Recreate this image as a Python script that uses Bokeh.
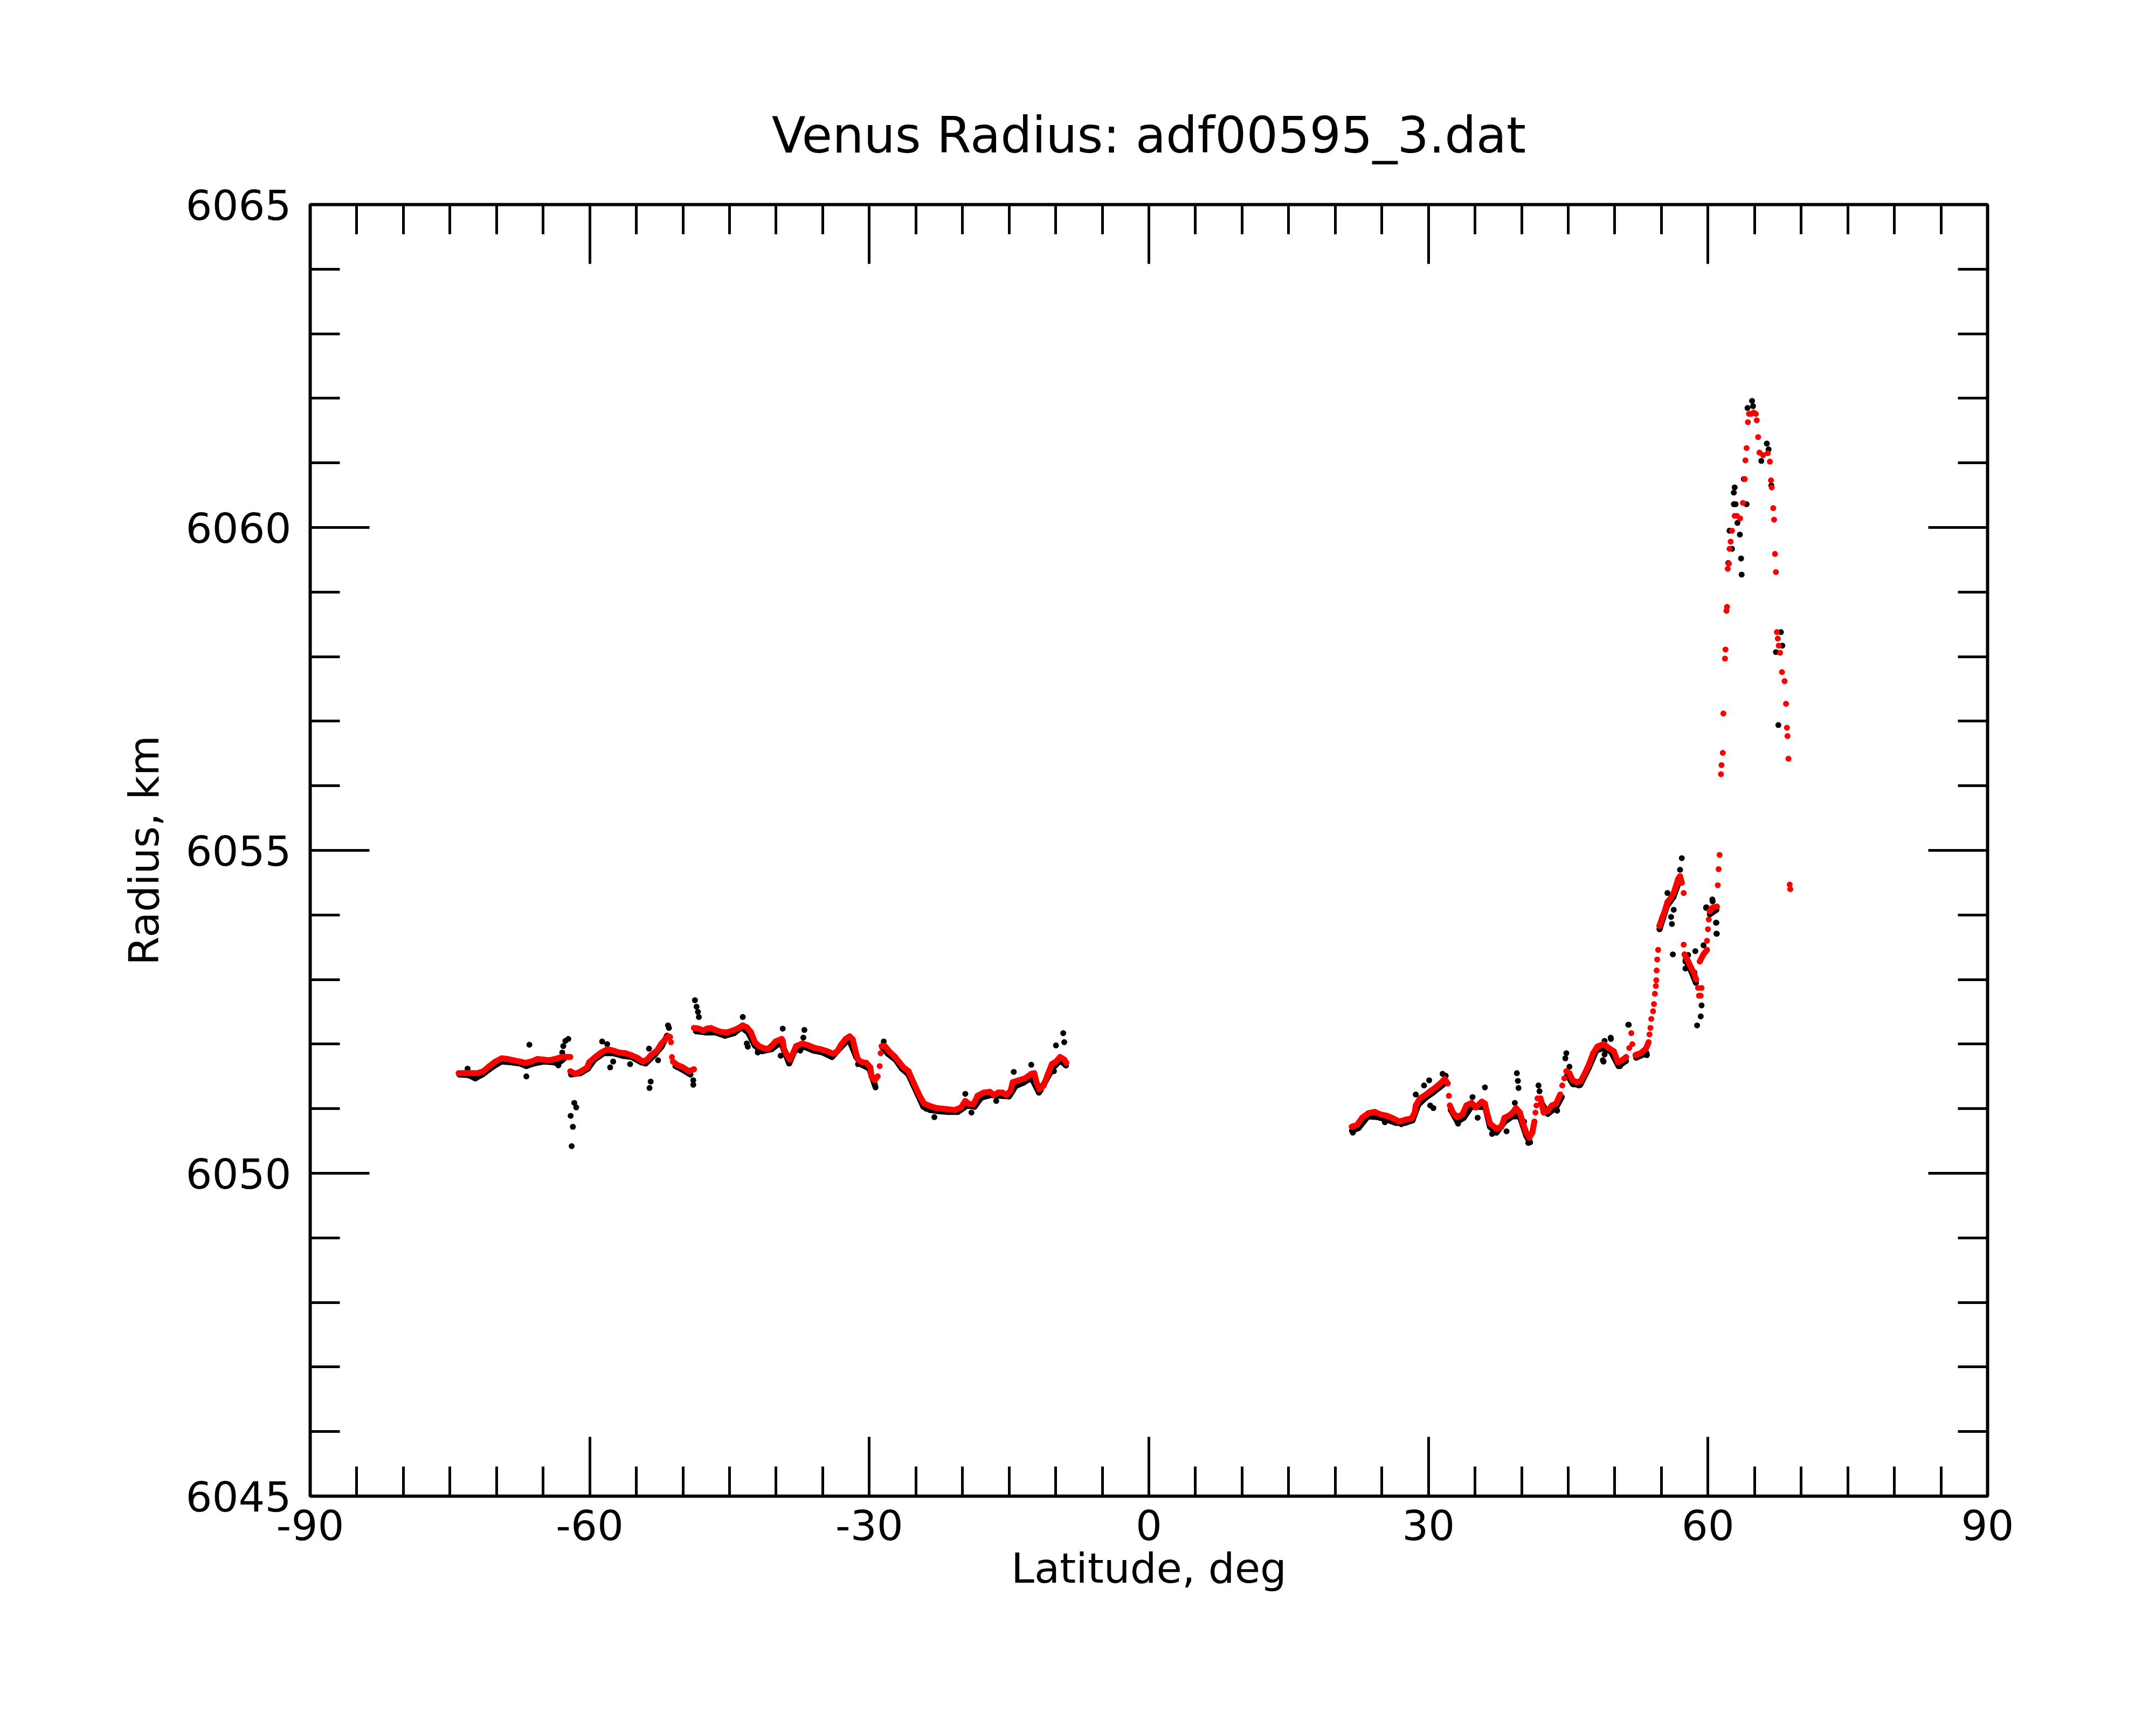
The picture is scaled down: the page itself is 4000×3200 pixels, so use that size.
from bokeh.plotting import figure
from bokeh.models import LinearAxis, FixedTicker, Range1d
from bokeh.embed import file_html
from bokeh.resources import INLINE

nan = float("nan")

title_text = "Venus Radius: adf00595_3.dat"
x_label = "Latitude, deg"
y_label = "Radius, km"
x_major_ticks = [-90, -60, -30, 0, 30, 60, 90]
x_tick_labels = ["-90", "-60", "-30", "0", "30", "60", "90"]
x_minor_ticks = list(range(-90, 91, 5))
y_major_ticks = [6045, 6050, 6055, 6060, 6065]
y_tick_labels = ["6045", "6050", "6055", "6060", "6065"]
y_minor_ticks = list(range(6045, 6066))

# smoothed (red) profile, continuous stretches separated by nan
red_track_lat = [
    -74.07, -73.11, -72.04, -71.40, -70.76, -70.11, -69.47, -68.83, -68.19, -67.55,
    -66.90, -66.26, -65.62, -64.98, -64.34, -63.69, -63.05, -62.41, -62.09, nan,
    -62.09, -61.55, -60.91, -60.27, -60.06, -59.41, -58.77, -58.13, -57.49, -56.85,
    -56.20, -55.56, -54.92, -54.28, -53.85, -53.42, -52.78, -52.35, -51.92, -51.60, -51.39, nan,
    -51.07, -50.64, -50.00, -49.36, -48.82, nan,
    -48.82, -48.29, -47.86, -47.43, -47.00, -46.57, -45.93, -45.29, -44.65, -44.01,
    -43.58, -43.15, -42.72, -42.28, -41.84, -41.39, -40.95, -40.51, -40.07, -39.40,
    -39.29, -39.18, -38.85, -38.52, -38.19, -37.85, -37.19, -36.53, -35.86, -35.20,
    -34.53, -33.87, -33.43, -32.98, -32.54, -32.10, -31.77, -31.43, -31.21, -30.77,
    -30.33, -29.89, -29.77, -29.44, -29.11, nan,
    -28.67, -28.34, -27.89, -27.23, -26.79, -26.34, -25.79, -25.46, -25.02, -24.57,
    -24.13, -23.47, -22.80, -22.14, -21.47, -20.81, -20.15, -19.70, -19.26, -18.82,
    -18.38, -17.71, -17.05, -16.61, -16.16, -15.72, -15.28, -14.83, -14.61, -13.95,
    -13.29, -12.62, -12.29, -12.07, -11.74, -11.29, -10.85, -10.41, -9.97, -9.52,
    -9.08, -8.86, nan,
    21.78, 22.34, 22.89, 23.55, 24.22, 24.88, 25.55, 26.21, 26.87, 27.54,
    28.20, 28.53, 28.64, 29.09, 29.75, 30.19, 30.86, 31.41, 31.74, 32.07, nan,
    32.30, 32.63, 33.07, 33.62, 34.07, 34.62, 35.06, 35.73, 36.06, 36.28,
    36.61, 37.28, 37.83, 38.16, 38.60, 39.05, 39.38, 39.82, 40.15, 40.49,
    40.82, 41.15, 41.37, nan,
    42.03, 42.37, 42.81, 43.25, 43.69, 44.14, nan,
    44.80, 45.13, 45.47, 45.91, 46.35, 46.79, 47.24, 47.68, 48.12, 48.79,
    49.34, 49.89, 50.34, 50.78, 51.22, nan,
    52.22, 52.77, 53.34, 53.63, nan,
    54.78, 55.07, 55.36, 55.65, 56.04, 56.32, 56.61, 56.81, 57.00, 57.19, nan,
    57.48, 57.87, 58.16, 58.45, 58.73, nan,
    59.12, 59.51, 59.89, nan,
    60.18, 60.47, 60.95,
]
red_track_rad = [
    6051.55, 6051.55, 6051.55, 6051.58, 6051.66, 6051.73, 6051.78, 6051.77, 6051.75, 6051.73,
    6051.71, 6051.73, 6051.77, 6051.76, 6051.75, 6051.77, 6051.80, 6051.80, 6051.80, nan,
    6051.58, 6051.54, 6051.58, 6051.64, 6051.72, 6051.80, 6051.87, 6051.92, 6051.90, 6051.87,
    6051.86, 6051.83, 6051.79, 6051.73, 6051.76, 6051.83, 6051.90, 6052.00, 6052.07, 6052.12, 6052.11, nan,
    6051.73, 6051.68, 6051.64, 6051.58, 6051.61, nan,
    6052.25, 6052.24, 6052.21, 6052.24, 6052.25, 6052.22, 6052.19, 6052.18, 6052.21, 6052.25,
    6052.29, 6052.26, 6052.19, 6052.03, 6051.97, 6051.94, 6051.92, 6051.97, 6052.04, 6052.08,
    6052.05, 6051.94, 6051.83, 6051.76, 6051.86, 6051.97, 6052.01, 6051.98, 6051.94, 6051.92,
    6051.89, 6051.85, 6051.89, 6052.00, 6052.08, 6052.12, 6052.07, 6051.86, 6051.76, 6051.72,
    6051.71, 6051.64, 6051.50, 6051.44, 6051.50, nan,
    6051.97, 6051.97, 6051.89, 6051.80, 6051.72, 6051.64, 6051.58, 6051.47, 6051.33, 6051.19,
    6051.08, 6051.04, 6051.01, 6051.00, 6050.99, 6050.98, 6051.02, 6051.12, 6051.07, 6051.07,
    6051.20, 6051.25, 6051.26, 6051.21, 6051.25, 6051.25, 6051.21, 6051.28, 6051.41, 6051.44,
    6051.47, 6051.54, 6051.55, 6051.41, 6051.30, 6051.36, 6051.53, 6051.69, 6051.73, 6051.80,
    6051.76, 6051.71, nan,
    6050.72, 6050.75, 6050.86, 6050.93, 6050.95, 6050.91, 6050.89, 6050.85, 6050.80, 6050.83,
    6050.85, 6050.94, 6051.05, 6051.16, 6051.22, 6051.27, 6051.34, 6051.41, 6051.46, 6051.39, nan,
    6051.05, 6050.94, 6050.87, 6050.91, 6051.05, 6051.09, 6051.02, 6051.11, 6051.08, 6050.94,
    6050.77, 6050.69, 6050.72, 6050.86, 6050.89, 6050.94, 6051.01, 6050.94, 6050.77, 6050.63,
    6050.55, 6050.63, 6050.80, nan,
    6051.16, 6050.94, 6050.97, 6051.05, 6051.08, 6051.22, nan,
    6051.58, 6051.55, 6051.44, 6051.41, 6051.43, 6051.55, 6051.69, 6051.86, 6051.96, 6052.00,
    6051.94, 6051.89, 6051.72, 6051.75, 6051.80, nan,
    6051.83, 6051.86, 6051.93, 6052.03, nan,
    6053.83, 6053.95, 6054.06, 6054.20, 6054.27, 6054.34, 6054.47, 6054.56, 6054.60, 6054.50, nan,
    6053.39, 6053.28, 6053.19, 6053.11, 6053.00, nan,
    6053.28, 6053.39, 6053.46, nan,
    6054.06, 6054.11, 6054.13,
]

# isolated smoothed (red) points on the steep parts
red_dot_lat = [
    -51.28, -51.18, -28.78, -28.89, 32.19, 41.48, 41.59, 41.70, 44.36, 44.58,
    51.55, 51.77, 51.88, 53.72, 53.82, 53.91, 54.11, 54.20, 54.30, 54.40,
    54.45, 54.49, 54.55, 54.65, 57.39, 57.39, 58.93, 59.31, 59.03, 59.22,
    59.89, 59.99, 60.08, 61.05, 61.14, 61.24, 61.39, 61.45, 61.59, 61.65,
    61.82, 61.88, 61.98, 62.04, 62.12, 62.24, 62.31, 62.43, 62.57, 62.86,
    63.10, 63.45, 63.75, 63.95, 64.01, 64.14, 64.28, 64.40, 64.64, 64.90,
    65.13, 65.23, 65.38, 65.52, 65.91, 66.41, 66.64, 66.76, 66.84, 67.00,
    67.09, 67.19, 67.29, 67.39, 67.49, 67.59, 67.74, 67.94, 68.22, 68.37,
    68.47, 68.53, 68.63, 68.77, 68.83,
]
red_dot_rad = [
    6052.03, 6051.80, 6051.86, 6051.66, 6051.20, 6050.94, 6051.05, 6051.16, 6051.36, 6051.47,
    6051.94, 6052.17, 6052.00, 6052.15, 6052.25, 6052.39, 6052.51, 6052.62, 6052.78, 6052.90,
    6052.99, 6053.14, 6053.31, 6053.46, 6054.34, 6053.54, 6052.87, 6052.87, 6052.75, 6052.75,
    6053.60, 6053.78, 6053.93, 6054.46, 6054.71, 6054.93, 6056.18, 6056.32, 6056.51, 6057.12,
    6057.97, 6058.11, 6058.71, 6058.77, 6059.36, 6059.44, 6059.67, 6059.78, 6059.95, 6060.18,
    6060.18, 6060.14, 6060.38, 6060.75, 6061.04, 6061.23, 6061.63, 6061.76, 6061.76, 6061.78,
    6061.76, 6061.66, 6061.40, 6061.16, 6061.12, 6061.15, 6061.02, 6060.73, 6060.62, 6060.30,
    6060.12, 6059.59, 6059.31, 6058.38, 6058.28, 6058.17, 6058.06, 6057.76, 6057.62, 6057.27,
    6056.90, 6056.77, 6056.42, 6054.47, 6054.40,
]

# raw (black) profile along the track, separated by nan
blk_track_lat = [
    -74.0, -73.0, -72.3, -71.5, -70.5, -69.5, -68.5, -67.5, -66.8, -66.0,
    -65.0, -64.0, -63.4, -62.8, nan,
    -62.0, -61.0, -60.2, -59.5, -58.5, -57.5, -56.5, -55.5, -54.5, -54.0,
    -53.0, -52.3, -51.7, nan,
    -50.8, -50.0, -49.2, nan,
    -48.6, -47.5, -46.5, -45.5, -44.5, -43.7, -43.0, -42.3, -41.5, -40.5,
    -39.5, -38.6, -38.0, -37.0, -36.0, -35.0, -34.0, -33.0, -32.2, -31.4,
    -30.8, -30.0, -29.4, nan,
    -28.6, -28.0, -27.2, -26.5, -25.8, -25.0, -24.2, -23.5, -22.5, -21.5,
    -20.5, -19.5, -18.7, -18.0, -17.0, -16.0, -15.0, -14.3, -13.5, -12.6,
    -11.8, -11.0, -10.3, -9.5, -8.9, nan,
    21.8, 22.5, 23.5, 24.5, 25.5, 26.5, 27.5, 28.3, 28.9, 29.7,
    30.4, 31.2, 31.8, nan,
    32.4, 33.1, 33.8, 34.6, 35.4, 36.1, 36.6, 37.3, 38.2, 39.0,
    39.8, 40.5, 40.9, nan,
    42.1, 42.8, 43.7, 44.3, nan,
    44.9, 45.5, 46.3, 47.2, 48.0, 48.8, 49.6, 50.4, 51.2, nan,
    52.3, 53.4, nan,
    54.8, 55.6, 56.3, 57.0, nan,
    57.6, 58.2, 58.7, nan,
    60.2, 60.9,
]
blk_track_rad = [
    6051.53, 6051.52, 6051.47, 6051.53, 6051.64, 6051.73, 6051.72, 6051.70, 6051.66, 6051.70,
    6051.73, 6051.72, 6051.70, 6051.77, nan,
    6051.53, 6051.55, 6051.62, 6051.76, 6051.86, 6051.86, 6051.82, 6051.80, 6051.72, 6051.70,
    6051.84, 6051.96, 6052.13, nan,
    6051.66, 6051.60, 6051.53, nan,
    6052.20, 6052.18, 6052.18, 6052.13, 6052.17, 6052.26, 6052.18, 6051.98, 6051.89, 6051.92,
    6052.03, 6051.70, 6051.90, 6051.96, 6051.90, 6051.87, 6051.80, 6051.96, 6052.08, 6051.80,
    6051.68, 6051.62, 6051.36, nan,
    6051.95, 6051.85, 6051.76, 6051.62, 6051.53, 6051.28, 6051.03, 6050.98, 6050.96, 6050.95,
    6050.95, 6051.05, 6051.03, 6051.17, 6051.21, 6051.20, 6051.19, 6051.35, 6051.40, 6051.48,
    6051.25, 6051.45, 6051.63, 6051.75, 6051.67, nan,
    6050.66, 6050.70, 6050.88, 6050.87, 6050.83, 6050.78, 6050.78, 6050.82, 6051.06, 6051.17,
    6051.24, 6051.33, 6051.40, nan,
    6050.98, 6050.80, 6050.86, 6051.03, 6051.03, 6051.02, 6050.72, 6050.63, 6050.80, 6050.88,
    6050.88, 6050.58, 6050.48, nan,
    6051.10, 6050.92, 6051.02, 6051.18, nan,
    6051.52, 6051.38, 6051.37, 6051.63, 6051.90, 6051.94, 6051.88, 6051.66, 6051.74, nan,
    6051.79, 6051.86, nan,
    6053.78, 6054.14, 6054.28, 6054.56, nan,
    6053.30, 6053.13, 6052.95, nan,
    6054.01, 6054.08,
]

# raw (black) points away from the smoothed profile
blk_dot_lat = [
    -73.11, -72.25, -66.80, -66.48, -63.37, -62.84, -62.62, -62.30, -62.95, -61.66,
    -61.45, -62.05, -61.81, -61.94, -58.67, -58.13, -57.49, -57.81, -55.67, -53.64,
    -52.67, -53.46, -53.59, -51.60, -51.50, -48.71, -48.54, -48.39, -48.29, -48.89,
    -48.89, -43.58, -43.15, -43.04, -41.97,
    -39.29, -36.97, -37.08, -23.02, -19.04, -19.70, -14.50, -12.62, -9.19, -9.08,
    -9.97, -10.19, -29.33, -29.44, -28.45, -41.95, -39.51, -37.41, -31.21, -23.91,
    -11.63, -16.38,
    28.64, 29.53, 30.08, 31.52, 31.85, 30.53, 36.06, 34.73, 35.28, 33.18,
    39.49, 39.60, 39.67, 39.27, 40.26, 41.81, 41.92, 43.81, 44.80, 44.69,
    45.13, 46.13, 48.79, 48.90, 49.56, 51.44, 53.43, 50.56, 38.38, 36.83,
    40.71, 25.32, 27.09, 30.19, 21.89,
    57.19, 57.00, 55.65, 56.32, 56.04, 56.13, 56.23, 58.64, 57.87, 57.58,
    57.58, 58.54, 59.31, 59.22, 58.83, 60.47, 59.79, 60.86, 60.95, 51.50,
    49.58, 48.71, 48.90, 53.43, 50.44,
    64.73, 64.83, 64.24, 66.31, 66.50, 65.72, 62.86, 62.77, 62.77, 62.96,
    63.16, 62.31, 63.42, 62.57, 63.55, 63.61, 62.18, 67.82, 67.98, 67.29,
    67.55, 60.50, 59.82, 60.90, 60.90, 59.52, 63.85, 66.80, 64.14,
]
blk_dot_rad = [
    6051.62, 6051.47, 6051.50, 6051.99, 6051.67, 6051.97, 6052.05, 6052.08, 6051.87, 6051.09,
    6051.02, 6050.89, 6050.72, 6050.42, 6052.04, 6052.00, 6051.73, 6051.64, 6051.69, 6051.93,
    6051.75, 6051.42, 6051.32, 6052.29, 6052.25, 6052.68, 6052.58, 6052.50, 6052.42, 6051.44,
    6051.37, 6052.42, 6052.01, 6051.96, 6051.87,
    6052.24, 6052.22, 6052.10, 6050.87, 6050.94, 6051.23, 6051.57, 6051.68, 6052.17, 6052.03,
    6051.98, 6051.58, 6051.33, 6051.39, 6052.04, 6051.89, 6051.82, 6051.90, 6051.69, 6051.00,
    6051.28, 6051.12,
    6051.22, 6051.36, 6051.44, 6051.54, 6051.51, 6051.01, 6051.33, 6051.18, 6050.86, 6050.77,
    6051.55, 6051.43, 6051.32, 6051.09, 6050.80, 6051.36, 6051.27, 6050.97, 6051.86, 6051.78,
    6051.65, 6051.36, 6051.73, 6052.05, 6052.10, 6052.30, 6051.83, 6051.66, 6050.65, 6050.61,
    6050.47, 6050.79, 6050.76, 6051.05, 6050.63,
    6054.88, 6054.70, 6054.34, 6054.08, 6053.97, 6053.86, 6053.39, 6053.44, 6053.38, 6053.28,
    6053.17, 6053.11, 6052.60, 6052.43, 6052.29, 6054.24, 6054.11, 6053.88, 6053.71, 6052.30,
    6052.08, 6051.75, 6051.84, 6051.84, 6051.68,
    6061.96, 6061.88, 6061.85, 6061.30, 6061.21, 6061.03, 6060.62, 6060.54, 6060.36, 6060.36,
    6060.07, 6059.95, 6059.89, 6059.67, 6059.52, 6059.27, 6059.45, 6058.38, 6058.17, 6058.07,
    6056.94, 6054.21, 6054.12, 6053.88, 6053.71, 6053.53, 6060.75, 6060.65, 6060.36,
]

FONT = "DejaVu Sans"
DOT = 11

p = figure(
    frame_width=3112, frame_height=2396,
    min_border_left=575, min_border_right=297, min_border_top=379, min_border_bottom=409,
    x_range=Range1d(-90, 90), y_range=Range1d(6045, 6065),
    output_backend="svg", toolbar_location=None,
    title=title_text,
)
p.background_fill_color = "white"
p.border_fill_color = "white"
p.grid.visible = False
p.outline_line_color = "black"
p.outline_line_width = 6
p.outline_line_alpha = 1.0

p.title.text_font = FONT
p.title.text_font_size = "92px"
p.title.text_font_style = "normal"
p.title.text_color = "black"
p.title.align = "center"
p.title.standoff = 150

bottom = p.below[0]
left = p.left[0]
top = LinearAxis()
right = LinearAxis()
p.add_layout(top, "above")
p.add_layout(right, "right")

xt = FixedTicker(ticks=x_major_ticks, minor_ticks=x_minor_ticks)
yt = FixedTicker(ticks=y_major_ticks, minor_ticks=y_minor_ticks)
bottom.ticker = xt
top.ticker = xt
left.ticker = yt
right.ticker = yt
bottom.major_label_overrides = dict(zip(x_major_ticks, x_tick_labels))
left.major_label_overrides = dict(zip(y_major_ticks, y_tick_labels))

for ax in [bottom, top, left, right]:
    ax.axis_line_color = None
    ax.major_tick_in = 110
    ax.major_tick_out = 0
    ax.minor_tick_in = 55
    ax.minor_tick_out = 0
    ax.major_tick_line_width = 5
    ax.minor_tick_line_width = 5
    ax.major_tick_line_color = "black"
    ax.minor_tick_line_color = "black"
    ax.major_label_text_font = FONT
    ax.major_label_text_font_size = "77px"
    ax.major_label_text_color = "black"
    ax.axis_label_text_font = FONT
    ax.axis_label_text_font_size = "77px"
    ax.axis_label_text_font_style = "normal"
    ax.axis_label_text_color = "black"

for ax in [top, right]:
    ax.major_label_text_color = None
    ax.major_label_standoff = 0

bottom.axis_label = x_label
left.axis_label = y_label
bottom.major_label_standoff = 25
bottom.axis_label_standoff = 5
left.major_label_standoff = 35
left.axis_label_standoff = 30

# raw data (black)
p.line(blk_track_lat, blk_track_rad, line_color="black", line_width=DOT,
       line_cap="round", line_join="round")
p.scatter(blk_track_lat, blk_track_rad, size=DOT, fill_color="black", line_color=None)
p.scatter(blk_dot_lat, blk_dot_rad, size=DOT, fill_color="black", line_color=None)

# smoothed data (red)
p.line(red_track_lat, red_track_rad, line_color="red", line_width=DOT,
       line_cap="round", line_join="round")
p.scatter(red_track_lat, red_track_rad, size=DOT, fill_color="red", line_color=None)
p.scatter(red_dot_lat, red_dot_rad, size=DOT, fill_color="red", line_color=None)

open("out.html", "w").write(file_html(p, INLINE))
